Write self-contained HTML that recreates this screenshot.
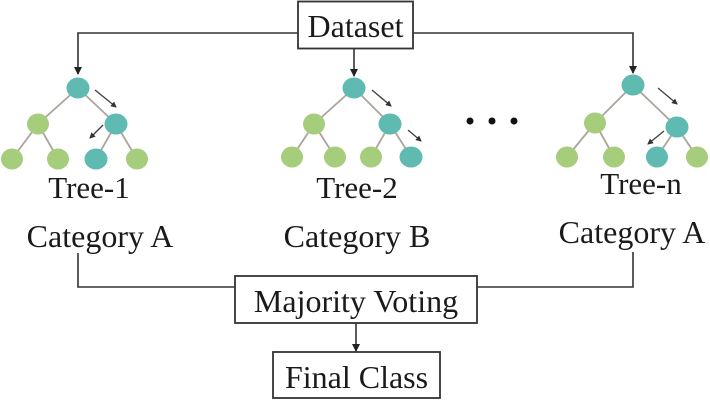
<!DOCTYPE html>
<html><head><meta charset="utf-8"><style>
html,body{margin:0;padding:0;background:#fff;}
svg text{font-family:"Liberation Serif",serif;fill:#1a1a1a;}
</style></head><body>
<svg width="710" height="402" viewBox="0 0 710 402" xmlns="http://www.w3.org/2000/svg">
<defs>
<marker id="a" markerWidth="8" markerHeight="8" refX="7" refY="4" orient="auto" markerUnits="userSpaceOnUse"><path d="M0,0 L8,4 L0,8 z" fill="#222"/></marker>
<marker id="s" markerWidth="6" markerHeight="6" refX="5" refY="3" orient="auto" markerUnits="userSpaceOnUse"><path d="M0,0 L6,3 L0,6 z" fill="#333"/></marker>
</defs>
<g stroke="#333" stroke-width="1.6" fill="none">
<polyline points="298,33 78,33 78,74" marker-end="url(#a)"/>
<polyline points="413,33 633,33 633,73" marker-end="url(#a)"/>
<line x1="354" y1="49" x2="354" y2="76" marker-end="url(#a)"/>
<polyline points="78,253 78,287 235,287"/>
<polyline points="633,252 633,287 477,287"/>
<line x1="356" y1="323" x2="356" y2="351" marker-end="url(#a)"/>
<rect x="298" y="1.5" width="115" height="47" stroke-width="1.8"/>
<rect x="235" y="276" width="242" height="47" stroke-width="1.8"/>
<rect x="273" y="352" width="167" height="46" stroke-width="1.8"/>
</g>
<text x="355.5" y="37" font-size="32" text-anchor="middle">Dataset</text>
<text x="356" y="312" font-size="32" text-anchor="middle">Majority Voting</text>
<text x="356.5" y="388" font-size="32" text-anchor="middle">Final Class</text>

<g stroke="#aaa49c" stroke-width="1.8">
<line x1="78" y1="88" x2="38" y2="124"/><line x1="78" y1="88" x2="116" y2="124"/>
<line x1="38" y1="124" x2="12" y2="159"/><line x1="38" y1="124" x2="58" y2="159"/>
<line x1="116" y1="124" x2="96" y2="159"/><line x1="116" y1="124" x2="137" y2="159"/>
<line x1="354" y1="88" x2="314" y2="124"/><line x1="354" y1="88" x2="390" y2="124"/>
<line x1="314" y1="124" x2="292" y2="157"/><line x1="314" y1="124" x2="335" y2="157"/>
<line x1="390" y1="124" x2="371" y2="157"/><line x1="390" y1="124" x2="411" y2="157"/>
<line x1="633" y1="85" x2="595" y2="123"/><line x1="633" y1="85" x2="677" y2="127"/>
<line x1="595" y1="123" x2="567" y2="157"/><line x1="595" y1="123" x2="614" y2="157"/>
<line x1="677" y1="127" x2="657" y2="157"/><line x1="677" y1="127" x2="697" y2="157"/>
</g>
<g>
<ellipse cx="78" cy="88" rx="11.5" ry="10.5" fill="#5fbab2"/>
<ellipse cx="38" cy="124" rx="11" ry="10.5" fill="#a5cd7c"/>
<ellipse cx="116" cy="124" rx="11.5" ry="10.5" fill="#5fbab2"/>
<ellipse cx="12" cy="159" rx="11" ry="10.5" fill="#a5cd7c"/>
<ellipse cx="58" cy="159" rx="11" ry="10.5" fill="#a5cd7c"/>
<ellipse cx="96" cy="159" rx="11.5" ry="10.5" fill="#5fbab2"/>
<ellipse cx="137" cy="159" rx="11" ry="10.5" fill="#a5cd7c"/>

<ellipse cx="354" cy="88" rx="11.5" ry="10.5" fill="#5fbab2"/>
<ellipse cx="314" cy="124" rx="11" ry="10.5" fill="#a5cd7c"/>
<ellipse cx="390" cy="124" rx="11.5" ry="10.5" fill="#5fbab2"/>
<ellipse cx="292" cy="157" rx="11" ry="10.5" fill="#a5cd7c"/>
<ellipse cx="335" cy="157" rx="11" ry="10.5" fill="#a5cd7c"/>
<ellipse cx="371" cy="157" rx="11" ry="10.5" fill="#a5cd7c"/>
<ellipse cx="411" cy="157" rx="11.5" ry="10.5" fill="#5fbab2"/>

<ellipse cx="633" cy="85" rx="11.5" ry="10.5" fill="#5fbab2"/>
<ellipse cx="595" cy="123" rx="11" ry="10.5" fill="#a5cd7c"/>
<ellipse cx="677" cy="127" rx="11.5" ry="10.5" fill="#5fbab2"/>
<ellipse cx="567" cy="157" rx="11" ry="10.5" fill="#a5cd7c"/>
<ellipse cx="614" cy="157" rx="11" ry="10.5" fill="#a5cd7c"/>
<ellipse cx="657" cy="157" rx="11" ry="10.5" fill="#5fbab2"/>
<ellipse cx="697" cy="157" rx="11" ry="10.5" fill="#a5cd7c"/>
</g>
<g stroke="#444" stroke-width="1.4">
<line x1="95" y1="90" x2="116" y2="107" marker-end="url(#s)"/>
<line x1="103" y1="125" x2="90" y2="138" marker-end="url(#s)"/>
<line x1="372" y1="90" x2="391" y2="106" marker-end="url(#s)"/>
<line x1="408" y1="130" x2="421" y2="141" marker-end="url(#s)"/>
<line x1="658" y1="88" x2="677" y2="104" marker-end="url(#s)"/>
<line x1="664" y1="131" x2="648" y2="144" marker-end="url(#s)"/>
</g>
<circle cx="470" cy="121" r="3.5" fill="#111"/>
<circle cx="492" cy="121" r="3.5" fill="#111"/>
<circle cx="514" cy="121" r="3.5" fill="#111"/>

<text x="89" y="198" font-size="31" text-anchor="middle">Tree-1</text>
<text x="357" y="198" font-size="31" text-anchor="middle">Tree-2</text>
<text x="641" y="194" font-size="31" text-anchor="middle">Tree-n</text>
<text x="100" y="247" font-size="32" text-anchor="middle">Category A</text>
<text x="357" y="247" font-size="32" text-anchor="middle">Category B</text>
<text x="632" y="243" font-size="32" text-anchor="middle">Category A</text>
</svg>
</body></html>
